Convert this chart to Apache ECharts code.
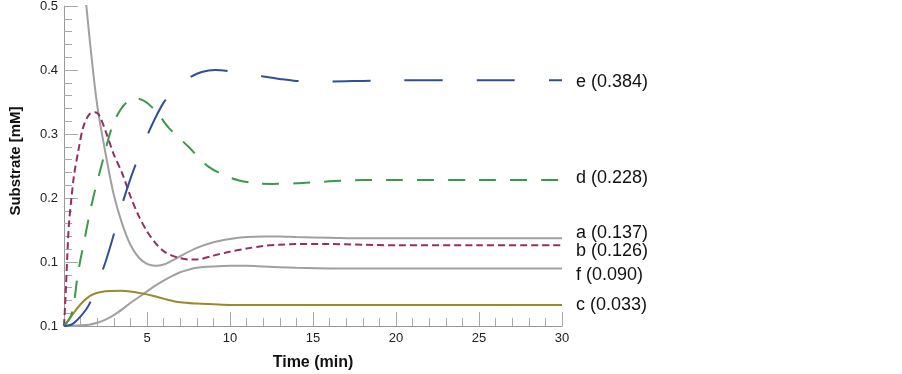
<!DOCTYPE html>
<html>
<head>
<meta charset="utf-8">
<script src="https://cdn.jsdelivr.net/npm/echarts@6/dist/echarts.min.js"></script>
<style>
  html, body { margin: 0; padding: 0; background: #fff; }
  #chart { width: 902px; height: 374px; }
</style>
</head>
<body>
<div id="chart"></div>
<script>
// time points (min) and substrate values (mM) for each curve
const aTime = [0, 0.5, 1, 1.5, 2, 2.5, 3, 3.5, 4, 4.5, 5, 5.5, 6, 6.5, 7, 8, 9, 10, 11, 12, 13, 14, 16, 18, 20, 25, 30];
const aValue = [1.0, 0.8, 0.6, 0.46, 0.345, 0.27, 0.205, 0.16, 0.127, 0.107, 0.097, 0.094, 0.096, 0.102, 0.109, 0.122, 0.131, 0.136, 0.139, 0.140, 0.140, 0.139, 0.138, 0.137, 0.137, 0.137, 0.137];

const bTime = [0, 0.1, 0.2, 0.3, 0.45, 0.6, 0.85, 1.15, 1.5, 1.85, 2.1, 2.5, 3, 3.5, 4, 4.5, 5, 5.5, 6, 6.5, 7, 7.5, 8, 9, 10, 11, 12, 13, 14, 16, 18, 20, 25, 30];
const bValue = [0, 0.05, 0.11, 0.16, 0.2, 0.235, 0.272, 0.31, 0.33, 0.334, 0.33, 0.305, 0.268, 0.239, 0.203, 0.172, 0.148, 0.13, 0.117, 0.110, 0.106, 0.104, 0.104, 0.110, 0.116, 0.121, 0.125, 0.127, 0.128, 0.128, 0.127, 0.126, 0.126, 0.126];

const cTime = [0, 0.3, 0.6, 1.0, 1.4, 1.8, 2.3, 2.8, 3.4, 4.0, 4.7, 5.4, 6.1, 7.0, 8.0, 9, 10, 12, 15, 20, 30];
const cValue = [0, 0.01, 0.021, 0.034, 0.044, 0.05, 0.0535, 0.0548, 0.055, 0.054, 0.051, 0.047, 0.042, 0.037, 0.035, 0.034, 0.033, 0.033, 0.033, 0.033, 0.033];

const dTime = [0, 0.4, 0.6, 0.8, 1.0, 1.2, 1.5, 1.8, 2.1, 2.4, 2.7, 3.0, 3.4, 3.8, 4.3, 4.8, 5.3, 5.8, 6.3, 7.5, 8.7, 10.1, 11.5, 12.5, 14, 16, 18, 20, 25, 30];
const dValue = [0, 0.015, 0.036, 0.075, 0.105, 0.13, 0.17, 0.205, 0.235, 0.265, 0.295, 0.318, 0.338, 0.35, 0.356, 0.352, 0.342, 0.327, 0.31, 0.28, 0.249, 0.231, 0.223, 0.222, 0.223, 0.226, 0.228, 0.228, 0.228, 0.228];

const eTime = [0, 0.5, 1.0, 1.5, 2.0, 2.5, 3.0, 3.5, 4.0, 4.5, 5.0, 5.5, 6.0, 6.5, 7.0, 7.6, 8.3, 9.1, 10, 11, 12, 13, 14, 16, 18, 20, 25, 30];
const eValue = [0, 0.003, 0.015, 0.033, 0.065, 0.1, 0.143, 0.19, 0.23, 0.265, 0.297, 0.325, 0.349, 0.366, 0.379, 0.389, 0.397, 0.4, 0.398, 0.394, 0.39, 0.386, 0.383, 0.382, 0.383, 0.384, 0.384, 0.384];

const fTime = [0, 1, 1.5, 2, 2.5, 3, 3.5, 4, 4.5, 5, 5.5, 6, 6.5, 7, 7.5, 8, 9, 10, 11, 12, 14, 16, 20, 25, 30];
const fValue = [0, 0.001, 0.002, 0.005, 0.01, 0.017, 0.026, 0.036, 0.045, 0.054, 0.063, 0.071, 0.078, 0.084, 0.088, 0.091, 0.093, 0.094, 0.094, 0.093, 0.091, 0.090, 0.090, 0.090, 0.090];

const yTickLabels = ['0.1', '0.1', '0.2', '0.3', '0.4', '0.5'];

const zip = (t, v) => t.map((x, i) => [x, v[i]]);
const fontFamily = '"Liberation Sans", Arial, sans-serif';

const chart = echarts.init(document.getElementById('chart'));

function curve(name, t, v, color, dash, labelDy) {
  return {
    name: name,
    type: 'line',
    data: zip(t, v),
    smooth: 0.3,
    showSymbol: false,
    clip: true,
    lineStyle: { color: color, width: 2, type: dash },
    endLabel: {
      show: true,
      distance: 14,
      offset: [0, labelDy],
      color: '#111',
      fontSize: 18,
      fontFamily: fontFamily,
      formatter: (p) => name + ' (' + p.value[1].toFixed(3) + ')'
    },
    z: name === 'a' || name === 'f' ? 1 : 2
  };
}

const option = {
  animation: false,
  grid: { left: 64, top: 6, width: 498, height: 320, containLabel: false, outerBoundsMode: 'none' },
  xAxis: {
    type: 'value',
    min: 0,
    max: 30,
    interval: 5,
    name: 'Time (min)',
    nameLocation: 'middle',
    nameGap: 29,
    nameMoveOverlap: false,
    nameTextStyle: { fontSize: 16, fontWeight: 'bold', color: '#111', fontFamily: fontFamily },
    axisLine: { lineStyle: { color: '#999', width: 1 } },
    axisTick: { inside: true, length: 14, lineStyle: { color: '#aaa' } },
    minorTick: { show: true, splitNumber: 5, length: 8, lineStyle: { color: '#aaa' } },
    splitLine: { show: false },
    axisLabel: {
      margin: 6,
      fontSize: 13,
      color: '#222',
      fontFamily: fontFamily,
      formatter: (v) => (v === 0 ? '' : String(v))
    }
  },
  yAxis: {
    type: 'value',
    min: 0,
    max: 0.5,
    interval: 0.1,
    name: 'Substrate [mM]',
    nameLocation: 'middle',
    nameGap: 41,
    nameRotate: 90,
    nameMoveOverlap: false,
    nameTextStyle: { fontSize: 15, fontWeight: 'bold', color: '#111', fontFamily: fontFamily, padding: [0, 0, 0, 10] },
    axisLine: { show: true, lineStyle: { color: '#999', width: 1 } },
    axisTick: { show: true, inside: true, length: 14, lineStyle: { color: '#aaa' } },
    minorTick: { show: true, splitNumber: 5, length: 8, lineStyle: { color: '#aaa' } },
    splitLine: { show: false },
    axisLabel: {
      margin: 6,
      fontSize: 13,
      color: '#222',
      fontFamily: fontFamily,
      formatter: (v) => yTickLabels[Math.round(v * 10)]
    }
  },
  series: [
    curve('a', aTime, aValue, '#a0a0a0', 'solid', -5),
    curve('f', fTime, fValue, '#a0a0a0', 'solid', 7),
    curve('c', cTime, cValue, '#9a8a2c', 'solid', 0),
    curve('b', bTime, bValue, '#962e64', [7, 4], 6),
    curve('d', dTime, dValue, '#3a9a4a', [17, 14], -2),
    curve('e', eTime, eValue, '#2f4f9a', [38, 34], 2)
  ]
};

chart.setOption(option);
</script>
</body>
</html>
